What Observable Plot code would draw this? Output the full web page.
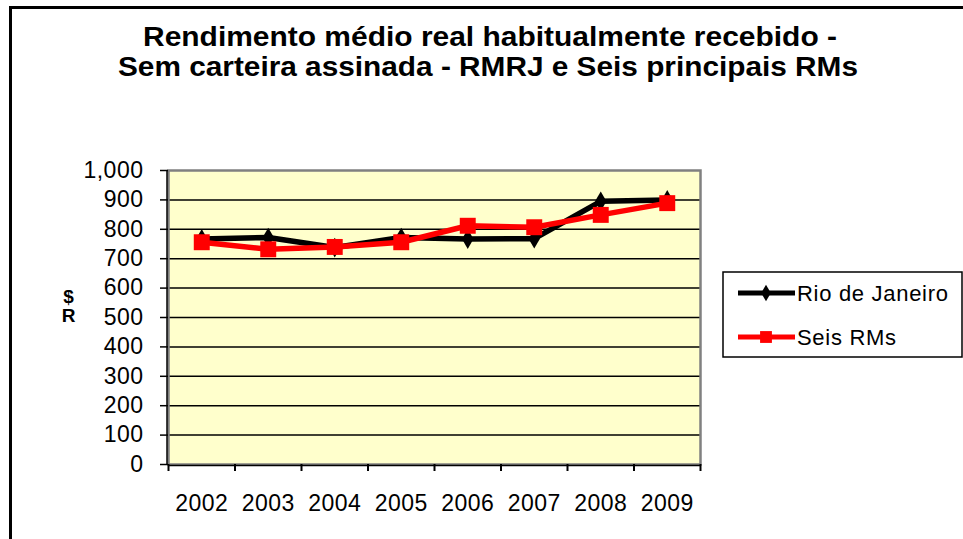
<!DOCTYPE html>
<html>
<head>
<meta charset="utf-8">
<script src="https://cdn.jsdelivr.net/npm/d3@7"></script>
<script src="https://cdn.jsdelivr.net/npm/@observablehq/plot@0.6"></script>
<style>
  body { margin: 0; background: #fff; }
  #wrap { position: relative; width: 963px; height: 539px; overflow: hidden; background: #fff; }
  #wrap > svg { position: absolute; left: 0; top: 0; }
  #overlay { pointer-events: none; }
</style>
</head>
<body>
<div id="wrap"></div>
<script>
// ---- data ----
const years = ["2002", "2003", "2004", "2005", "2006", "2007", "2008", "2009"];
const rioDeJaneiro = [767, 772, 738, 772, 767, 768, 895, 900];
const seisRMs = [756, 732, 740, 756, 812, 807, 849, 889];
const yTicks = [0, 100, 200, 300, 400, 500, 600, 700, 800, 900, 1000];
const gridValues = [100, 200, 300, 400, 500, 600, 700, 800, 900];
const titleLines = ["Rendimento médio real habitualmente recebido -", "Sem carteira assinada - RMRJ e Seis principais RMs"];
const seriesNames = ["Rio de Janeiro", "Seis RMs"];
const yLabel = "R$";

const rio = years.map((y, i) => ({i, v: rioDeJaneiro[i]}));
const seis = years.map((y, i) => ({i, v: seisRMs[i]}));
const centers = years.map((y, i) => i);
const boundaries = d3.range(years.length + 1).map(i => i - 0.5);

const font = "'Liberation Sans', Arial, sans-serif";

const chart = Plot.plot({
  width: 963,
  height: 539,
  marginLeft: 168,
  marginRight: 263,
  marginTop: 170,
  marginBottom: 75,
  style: {fontFamily: font, fontSize: "23px", letterSpacing: "0.5px", color: "#000", background: "transparent"},
  x: {type: "linear", domain: [-0.5, years.length - 0.5]},
  y: {domain: [0, 1000]},
  marks: [
    Plot.frame({fill: "#FFFFCC", stroke: "none"}),
    Plot.ruleY(gridValues, {stroke: "#000", strokeWidth: 1.5}),
    Plot.frame({stroke: "#808080", strokeWidth: 2.5}),
    Plot.ruleX([-0.5], {y1: 0, y2: 1000, stroke: "#000", strokeWidth: 1.5, dx: -1.5}),
    Plot.ruleY([0], {stroke: "#000", strokeWidth: 1.5, dy: 1}),
    Plot.axisY({ticks: yTicks, tickFormat: d3.format(","), tickSize: 8, tickPadding: 17, strokeWidth: 1.5, label: null}),
    Plot.axisX({ticks: centers, tickFormat: i => years[i], tickSize: 0, tickPadding: 30, label: null}),
    Plot.axisX({ticks: boundaries, tickFormat: () => "", tickSize: 7, strokeWidth: 2, label: null}),
    Plot.line(rio, {x: "i", y: "v", stroke: "#000", strokeWidth: 5.5, strokeLinejoin: "round"}),
    Plot.dot(rio, {x: "i", y: "v", symbol: "diamond", r: 6, fill: "#000", stroke: "none"}),
    Plot.line(seis, {x: "i", y: "v", stroke: "#FF0000", strokeWidth: 5.5, strokeLinejoin: "round"}),
    Plot.dot(seis, {x: "i", y: "v", symbol: "square", r: 9, fill: "#FF0000", stroke: "none"})
  ]
});

const wrap = document.getElementById("wrap");
wrap.appendChild(chart);

// overlay: border, title, legend, y label
const ns = "http://www.w3.org/2000/svg";
const ov = d3.select(wrap).append("svg")
  .attr("id", "overlay")
  .attr("width", 963).attr("height", 539)
  .attr("xmlns", ns)
  .style("font-family", font);

// outer chart border (left and top visible)
ov.append("rect").attr("x", 10.5).attr("y", 7.5).attr("width", 1000).attr("height", 600)
  .attr("fill", "none").attr("stroke", "#000").attr("stroke-width", 3);

// title
const titleSpecs = [{x: 490, y: 46, w: 694}, {x: 488, y: 76, w: 740}];
titleLines.forEach((t, k) => {
  ov.append("text").text(t)
    .attr("x", titleSpecs[k].x).attr("y", titleSpecs[k].y)
    .attr("text-anchor", "middle")
    .attr("font-size", 27).attr("font-weight", "bold")
    .attr("textLength", titleSpecs[k].w).attr("lengthAdjust", "spacingAndGlyphs")
    .attr("fill", "#000");
});

// y label: stacked "$" over "R"
ov.append("text").text(yLabel[1]).attr("x", 68.5).attr("y", 303)
  .attr("text-anchor", "middle").attr("font-size", 19).attr("font-weight", "bold");
ov.append("text").text(yLabel[0]).attr("x", 68.5).attr("y", 322)
  .attr("text-anchor", "middle").attr("font-size", 19).attr("font-weight", "bold");

// legend
const lg = ov.append("g");
lg.append("rect").attr("x", 723).attr("y", 272).attr("width", 239).attr("height", 85)
  .attr("fill", "#fff").attr("stroke", "#000").attr("stroke-width", 1.5);
const entries = [
  {name: seriesNames[0], color: "#000", y: 293, sym: d3.symbolDiamond, size: 80},
  {name: seriesNames[1], color: "#FF0000", y: 337, sym: d3.symbolSquare, size: 140}
];
entries.forEach(e => {
  lg.append("line").attr("x1", 738).attr("x2", 795).attr("y1", e.y).attr("y2", e.y)
    .attr("stroke", e.color).attr("stroke-width", 5);
  lg.append("path").attr("d", d3.symbol(e.sym, e.size)())
    .attr("transform", `translate(766,${e.y})`).attr("fill", e.color);
  lg.append("text").text(e.name).attr("x", 797).attr("y", e.y + 8)
    .attr("font-size", 22).attr("letter-spacing", "0.7px").attr("fill", "#000");
});
</script>
</body>
</html>
